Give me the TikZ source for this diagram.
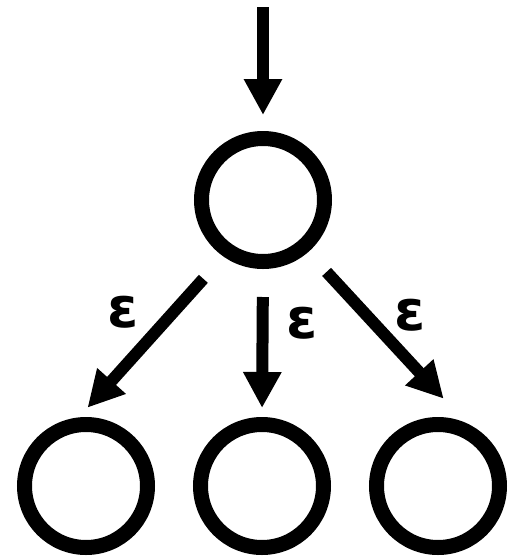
\documentclass[tikz,border=0pt]{standalone}
\usepackage{fontspec}
\newfontfamily\epsfont{DejaVu Sans}
\usetikzlibrary{arrows.meta,positioning}

\begin{document}
\begin{tikzpicture}[x=1pt, y=-1pt,
  state/.style={draw, circle, line width=15pt, minimum size=123pt, inner sep=0pt},
  lab/.style={font=\epsfont\bfseries\fontsize{56}{56}\selectfont, inner sep=0pt},
  arrow/.style={-{Triangle[length=36pt,width=36pt]}, line width=12pt}
]
\useasboundingbox (0,0) rectangle (514,558);
\coordinate (in) at (263,7);
\node[state] (top) at (263,200) {};
\node[state] (left) at (86,486) {};
\node[state] (mid) at (262,486) {};
\node[state] (right) at (438,486) {};
\draw[arrow, shorten >=16pt] (in) -- (top.north);
\draw[arrow, shorten <=30pt, shorten >=13pt] (top.-125) -- (left.96);
\draw[arrow, shorten <=28pt, shorten >=9pt] (top.south) -- (mid.north);
\draw[arrow, shorten <=27pt, shorten >=33pt] (top.-49) -- (right.66);
\node[lab] (e1) at (123,312) {ε};
\node[lab] (e2) at (302,323) {ε};
\node[lab] (e3) at (410,315) {ε};
\end{tikzpicture}
\end{document}
